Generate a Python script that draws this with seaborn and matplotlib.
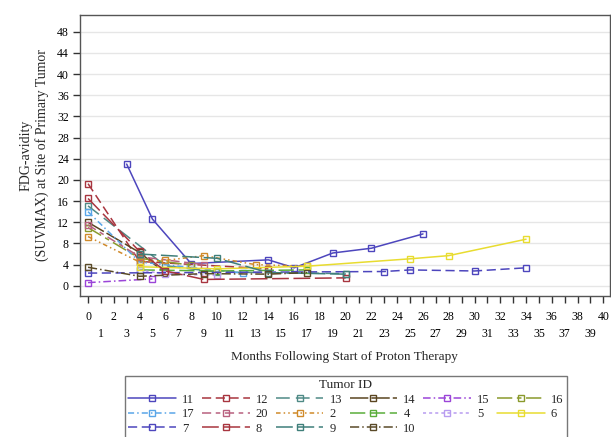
import pandas as pd
import matplotlib.pyplot as plt
import seaborn as sns

# tumour series (months, SUVmax)
t11_m = [3, 5, 8, 14, 16, 19, 22, 26]
t11_v = [23.0, 12.6, 4.2, 4.9, 3.4, 6.2, 7.1, 9.8]
t12_m = [0, 4, 14]
t12_v = [19.3, 4.6, 3.2]
t13_m = [0, 6, 10, 20]
t13_v = [15.1, 3.8, 2.6, 2.3]
t14_m = [0, 4, 6]
t14_v = [12.0, 6.3, 2.4]
t15_m = [0, 5]
t15_v = [0.6, 1.3]
t16_m = [0, 4, 8]
t16_v = [11.0, 5.2, 3.9]
t17_m = [0, 4, 12]
t17_v = [14.0, 4.5, 2.4]
t20_m = [0, 4, 9]
t20_v = [11.5, 5.5, 4.0]
t2_m = [0, 4, 6, 9, 13, 17]
t2_v = [9.3, 4.5, 4.8, 5.7, 4.0, 3.7]
t4_m = [4, 10, 17]
t4_v = [3.0, 2.8, 3.0]
t5_m = [4, 6, 10]
t5_v = [3.0, 2.2, 2.0]
t6_m = [4, 10, 17, 25, 28, 34]
t6_v = [3.6, 3.2, 3.7, 5.1, 5.7, 8.8]
t7_m = [0, 23, 25, 30, 34]
t7_v = [2.4, 2.7, 3.0, 2.8, 3.4]
t8_m = [0, 4, 6, 9, 20]
t8_v = [16.5, 6.5, 2.8, 1.2, 1.5]
t9_m = [4, 10, 14, 20]
t9_v = [6.0, 5.2, 2.5, 2.2]
t10_m = [0, 4, 9, 14, 17]
t10_v = [3.5, 1.8, 2.3, 2.2, 2.5]

tumors = ['11', '12', '13', '14', '15', '16', '17', '20', '2', '4', '5', '6', '7', '8', '9', '10']
series = {
    '11': (t11_m, t11_v), '12': (t12_m, t12_v), '13': (t13_m, t13_v), '14': (t14_m, t14_v),
    '15': (t15_m, t15_v), '16': (t16_m, t16_v), '17': (t17_m, t17_v), '20': (t20_m, t20_v),
    '2': (t2_m, t2_v), '4': (t4_m, t4_v), '5': (t5_m, t5_v), '6': (t6_m, t6_v),
    '7': (t7_m, t7_v), '8': (t8_m, t8_v), '9': (t9_m, t9_v), '10': (t10_m, t10_v),
}

colors = {
    '11': '#4d46bd', '12': '#a8353f', '13': '#4f8a86', '14': '#5a4520',
    '15': '#9b45d8', '16': '#8a9a2c', '17': '#5aa6e8', '20': '#b8607f',
    '2': '#d08a2a', '4': '#5aae3a', '5': '#b89cf0', '6': '#e8dc30',
    '7': '#4d46bd', '8': '#a8353f', '9': '#3f7f7a', '10': '#5a4a28',
}
dashes = {
    '11': '', '12': (6, 3), '13': (9, 4), '14': (12, 2), '15': (5, 2, 1, 2),
    '16': (10, 3, 3, 3), '17': (4, 2, 1, 2), '20': (6, 3, 3, 3), '2': (3, 2, 1, 2, 1, 2),
    '4': (10, 3), '5': (2, 2), '6': '', '7': (6, 3), '8': (11, 3), '9': (11, 3),
    '10': (6, 2, 1, 2),
}

rows = []
for t in tumors:
    for m, v in zip(*series[t]):
        rows.append({'tumor': t, 'month': m, 'suv': v})
df = pd.DataFrame(rows)

sns.set_theme(style='white')
plt.rcParams['font.family'] = ['Liberation Serif', 'DejaVu Serif']

fig = plt.figure(figsize=(6.11, 4.37), dpi=100)
ax = fig.add_axes([0.131, 0.323, 0.867, 0.643])

sns.lineplot(data=df, x='month', y='suv', hue='tumor', style='tumor',
             hue_order=tumors, style_order=tumors, palette=colors,
             dashes=dashes, markers={t: 's' for t in tumors},
             legend=False, ax=ax, lw=1.1, markersize=5,
             markerfacecolor='none', markeredgewidth=1.0)
for line in ax.lines:
    line.set_markeredgecolor(line.get_color())
    line.set_markerfacecolor('none')

ax.set_xlim(-0.62, 40.5)
ax.set_ylim(-1.9, 51.2)
ax.set_yticks(range(0, 49, 4))
ax.set_xticks(range(0, 41, 2))
ax.set_xticks(range(1, 40, 2), minor=True)
ax.set_xticklabels([str(i) for i in range(0, 41, 2)])
ax.set_xticklabels([str(i) for i in range(1, 40, 2)], minor=True)
ax.tick_params(axis='both', which='both', direction='out', length=5, width=1,
               color='#333333', labelsize=8.5, labelcolor='black',
               bottom=True, left=True)
ax.tick_params(axis='x', which='major', pad=6)
ax.tick_params(axis='x', which='minor', pad=18)
ax.tick_params(axis='y', pad=3)
ax.grid(axis='y', color='#e6e6e6', lw=1)
ax.set_axisbelow(True)
for s in ax.spines.values():
    s.set_color('#555555')
    s.set_linewidth(1)

ax.set_xlabel('Months Following Start of Proton Therapy', fontsize=9.5, labelpad=8)
ax.set_ylabel('FDG-avidity\n(SUVMAX) at Site of Primary Tumor', fontsize=10, labelpad=6)

# legend laid out row by row like the original (matplotlib fills by column)
leg_order = ['11', '17', '7', '12', '20', '8', '13', '2', '9', '14', '4', '10', '15', '5', '16', '6']
handles = {t: ax.lines[i] for i, t in enumerate(tumors)}
leg = fig.legend([handles[t] for t in leg_order], leg_order, title='Tumor ID',
                 loc='upper center', bbox_to_anchor=(0.566, 0.155), ncol=6,
                 fontsize=9, title_fontsize=9.5, handlelength=3.8, handletextpad=0.5,
                 columnspacing=0.6, labelspacing=0.2, borderpad=0.3,
                 frameon=True, fancybox=False, edgecolor='#555555')
leg.get_frame().set_linewidth(1)

fig.savefig('out.png', dpi=100)
